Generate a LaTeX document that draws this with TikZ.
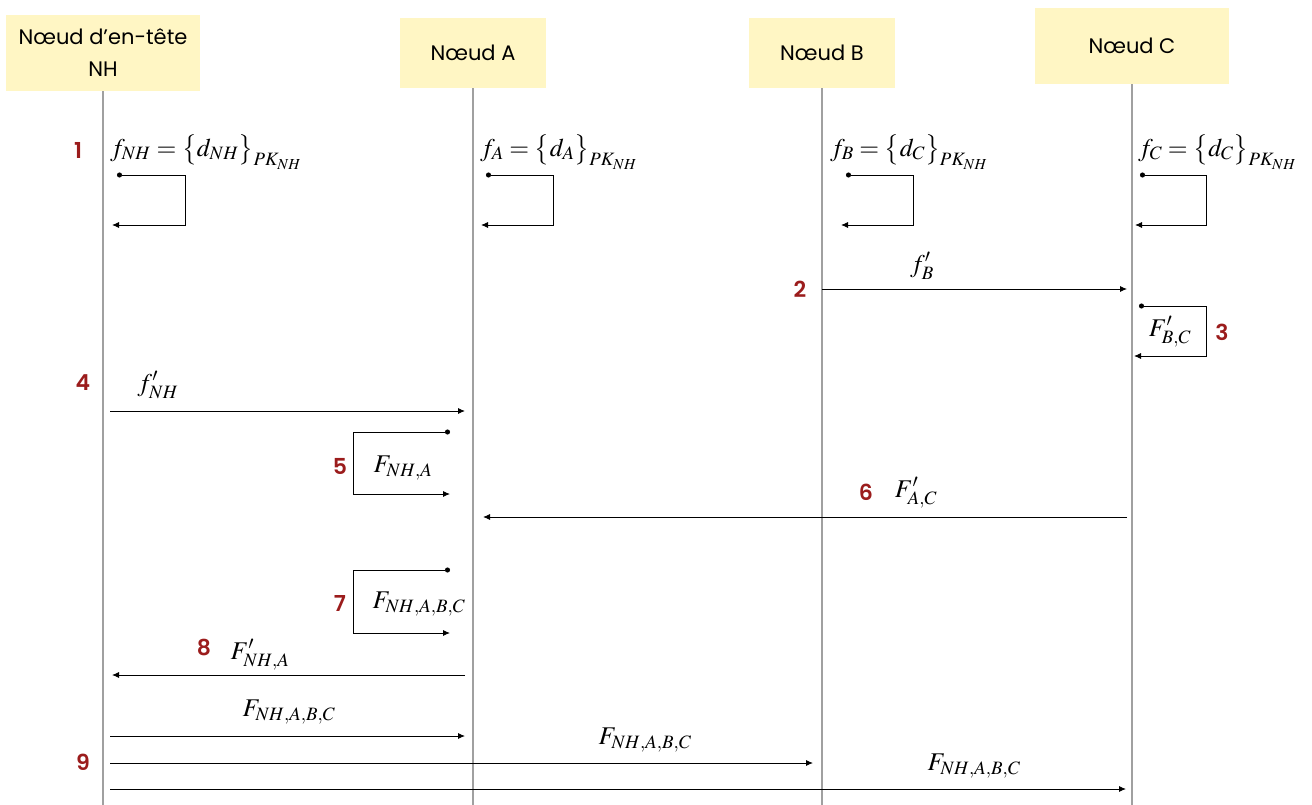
\documentclass[tikz,border=0pt]{standalone}
\usepackage{mathptmx}
\usepackage{fontspec}
\usetikzlibrary{arrows.meta}
\newfontfamily\headfont{Poppins}
\newfontfamily\numfont{Poppins SemiBold}
\definecolor{headyellow}{RGB}{255,246,196}
\definecolor{stepred}{RGB}{155,28,28}
\definecolor{lifegray}{RGB}{160,160,160}

\begin{document}
\begin{tikzpicture}[x=1pt,y=-1pt,
  head/.style={fill=headyellow, font=\headfont\fontsize{21}{32}\selectfont, align=center, inner sep=0pt},
  life/.style={draw=lifegray, line width=1.3pt},
  msg/.style={line width=.9pt, -{Latex[length=7pt,width=6pt]}},
  selfmsg/.style={line width=.9pt, {Circle[length=5pt]}-{Latex[length=7pt,width=6pt]}},
  num/.style={text=stepred, font=\numfont\fontsize{22}{22}\selectfont, inner sep=0pt},
  lab/.style={font=\fontsize{25.5}{30}\selectfont, inner sep=0pt}]
 \useasboundingbox (0,0) rectangle (1312,805);

 % participants
 \node[head, minimum width=194pt, minimum height=76pt] (nh) at (103,53) {Nœud d’en-tête\\NH};
 \node[head, minimum width=146pt, minimum height=70pt] (a) at (473,53) {Nœud A};
 \node[head, minimum width=146pt, minimum height=70pt] (b) at (822,53) {Nœud B};
 \node[head, minimum width=194pt, minimum height=76pt] (c) at (1132,46) {Nœud C};
 \foreach \p in {nh,a,b,c}
   \draw[life] (\p.south) -- (\p |- 0,805);

 % step 1
 \node[num] (n1) at (78,150) {1};
 \node[lab, anchor=west] (f1) at (110,152) {$f_{NH} = \bigl\{d_{NH}\bigr\}_{PK_{NH}}$};
 \node[lab, anchor=west] (f2) at (480,152) {$f_{A} = \bigl\{d_{A}\bigr\}_{PK_{NH}}$};
 \node[lab, anchor=west] (f3) at (830,152) {$f_{B} = \bigl\{d_{C}\bigr\}_{PK_{NH}}$};
 \node[lab, anchor=west] (f4) at (1138,152) {$f_{C} = \bigl\{d_{C}\bigr\}_{PK_{NH}}$};
 \draw[selfmsg] (117,175) -- (185,175) -- (185,225) -- (112,225);
 \draw[selfmsg] (486,175) -- (553,175) -- (553,225) -- (481,225);
 \draw[selfmsg] (846,175) -- (913,175) -- (913,225) -- (841,225);
 \draw[selfmsg] (1140,175) -- (1206,175) -- (1206,225) -- (1135,225);

 % step 2
 \node[num] (n2) at (800,289) {2};
 \node[lab] (m2) at (922,266) {$f'_{B}$};
 \draw[msg, shorten >=5pt] (b |- 0,289) -- (c |- 0,289);

 % step 3
 \node[num] (n3) at (1222,332) {3};
 \node[lab] (m3) at (1170,332) {$F'_{B,C}$};
 \draw[selfmsg] (1139,306) -- (1206,306) -- (1206,356) -- (1134,356);

 % step 4
 \node[num] (n4) at (83,383) {4};
 \node[lab] (m4) at (158,385) {$f'_{NH}$};
 \draw[msg, shorten <=7pt, shorten >=8pt] (nh |- 0,411) -- (a |- 0,411);

 % step 5
 \node[num] (n5) at (340,466) {5};
 \node[lab] (m5) at (403,468) {$F_{NH,A}$};
 \draw[selfmsg] (450,432) -- (353,432) -- (353,494) -- (450,494);

 % step 6
 \node[num] (n6) at (866,492) {6};
 \node[lab] (m6) at (916,493) {$F'_{A,C}$};
 \draw[msg, shorten <=5pt, shorten >=10pt] (c |- 0,517) -- (a |- 0,517);

 % step 7
 \node[num] (n7) at (340,603) {7};
 \node[lab] (m7) at (419,604) {$F_{NH,A,B,C}$};
 \draw[selfmsg] (450,570) -- (353,570) -- (353,633) -- (450,633);

 % step 8
 \node[num] (n8) at (204,647) {8};
 \node[lab] (m8) at (260,655) {$F'_{NH,A}$};
 \draw[msg, shorten <=8pt, shorten >=9pt] (a |- 0,675) -- (nh |- 0,675);

 % step 9
 \node[num] (n9) at (83,762) {9};
 \node[lab] (m9a) at (289,712) {$F_{NH,A,B,C}$};
 \node[lab] (m9b) at (645,740) {$F_{NH,A,B,C}$};
 \node[lab] (m9c) at (974,766) {$F_{NH,A,B,C}$};
 \draw[msg, shorten <=7pt, shorten >=8pt] (nh |- 0,736) -- (a |- 0,736);
 \draw[msg, shorten <=7pt, shorten >=9pt] (nh |- 0,763) -- (b |- 0,763);
 \draw[msg, shorten <=7pt, shorten >=6pt] (nh |- 0,789) -- (c |- 0,789);
\end{tikzpicture}
\end{document}
